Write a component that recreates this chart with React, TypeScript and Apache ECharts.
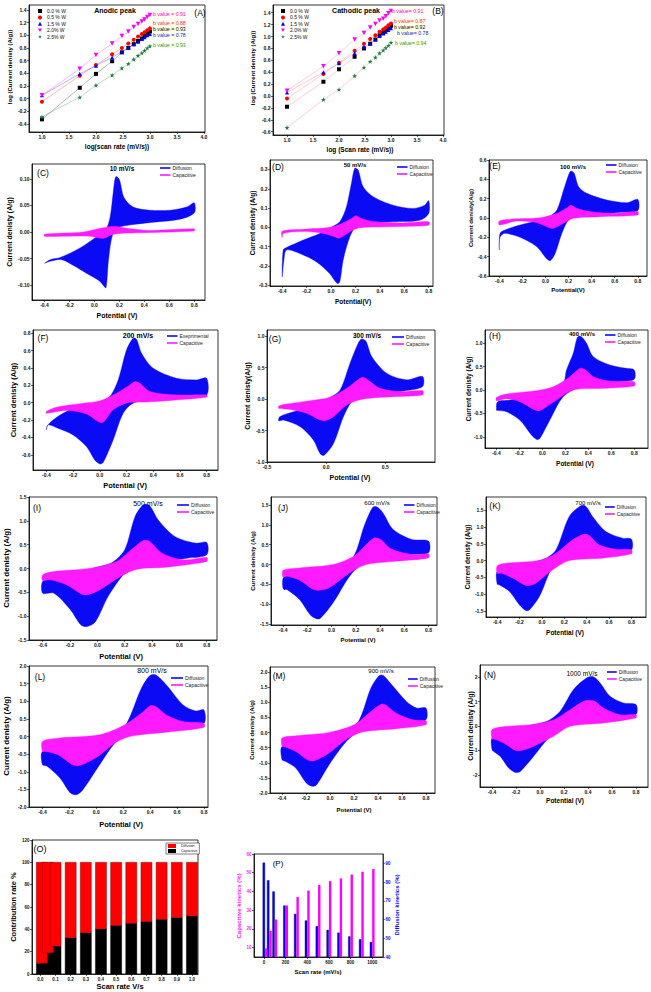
import React, { useEffect, useRef } from "react";
import * as echarts from "echarts";

const FONT = "'Liberation Sans', Arial, sans-serif";
const BLUE = "#0a0af5";
const MAG = "#ff1aff";

// ---------- (A)/(B) b-value plots ----------
const logScanRate = [1.0, 1.7, 2.0, 2.3, 2.48, 2.6, 2.7, 2.78, 2.85, 2.9, 2.95, 3.0];
const anodic00 = [-0.33, 0.17, 0.39, 0.59, 0.73, 0.8, 0.86, 0.91, 0.95, 0.99, 1.03, 1.06];
const anodic05 = [-0.05, 0.36, 0.53, 0.7, 0.8, 0.87, 0.93, 0.98, 1.02, 1.05, 1.08, 1.11];
const anodic15 = [0.05, 0.39, 0.52, 0.65, 0.74, 0.8, 0.86, 0.9, 0.94, 0.97, 1.0, 1.02];
const anodic20 = [0.05, 0.47, 0.69, 0.87, 0.99, 1.06, 1.13, 1.18, 1.22, 1.25, 1.29, 1.32];
const anodic25 = [-0.29, 0.02, 0.21, 0.37, 0.48, 0.55, 0.62, 0.68, 0.72, 0.76, 0.8, 0.83];
const cathodic00 = [-0.18, 0.24, 0.45, 0.66, 0.8, 0.88, 0.95, 1.02, 1.06, 1.11, 1.14, 1.18];
const cathodic05 = [-0.04, 0.37, 0.56, 0.76, 0.88, 0.96, 1.02, 1.08, 1.12, 1.15, 1.19, 1.22];
const cathodic15 = [0.06, 0.4, 0.55, 0.72, 0.83, 0.88, 0.95, 1.01, 1.05, 1.08, 1.11, 1.14];
const cathodic20 = [0.09, 0.5, 0.72, 0.95, 1.06, 1.15, 1.21, 1.27, 1.3, 1.34, 1.39, 1.43];
const cathodic25 = [-0.53, -0.06, 0.11, 0.34, 0.48, 0.58, 0.65, 0.72, 0.77, 0.81, 0.85, 0.9];
const wtNames = ["0.0 % W", "0.5 % W", "1.5 % W", "2.0% W", "2.5% W"];
const anodicB = ["b value = 0.91", "b value = 0.88", "b value = 0.93", "b value = 0.78", "b value = 0.93"];
const cathodicB = ["b value= 0.91", "b value= 0.87", "b value= 0.92", "b value= 0.78", "b value= 0.94"];
const abXTicks = [1.0, 1.5, 2.0, 2.5, 3.0, 3.5, 4.0];
const aYTicks = [-0.4, -0.2, 0, 0.2, 0.4, 0.6, 0.8, 1.0, 1.2, 1.4];
const bYTicks = [-0.6, -0.4, -0.2, 0, 0.2, 0.4, 0.6, 0.8, 1.0, 1.2, 1.4];

// ---------- CV loops (potential V, current A/g) ----------
const cDiff = [[-0.4,-0.059],[-0.355,-0.052],[-0.275,-0.048],[-0.115,-0.03],[0.019,-0.009],[0.085,0.001],[0.125,0.027],[0.152,0.077],[0.171,0.104],[0.2,0.099],[0.237,0.065],[0.312,0.047],[0.445,0.041],[0.605,0.041],[0.739,0.047],[0.8,0.055],[0.8,0.036],[0.685,0.024],[0.499,0.019],[0.312,0.014],[0.179,0.007],[0.139,-0.011],[0.112,-0.055],[0.093,-0.105],[0.07,-0.1],[0.04,-0.092],[-0.061,-0.078],[-0.168,-0.063],[-0.261,-0.052],[-0.355,-0.055]];
const cCap = [[-0.4,-0.004],[-0.088,0.0],[0.045,0.007],[0.165,0.011],[0.259,0.007],[0.445,0.003],[0.8,0.006],[0.8,0.002],[0.445,-0.001],[0.152,-0.004],[0.072,-0.012],[-0.035,-0.008],[-0.4,-0.008]];
const dDiff = [[-0.4,-0.257],[-0.392,-0.118],[-0.365,-0.105],[-0.228,-0.066],[-0.092,-0.032],[0.017,0.006],[0.072,0.029],[0.126,0.106],[0.167,0.228],[0.194,0.306],[0.222,0.297],[0.263,0.21],[0.345,0.159],[0.508,0.115],[0.672,0.098],[0.767,0.115],[0.8,0.138],[0.8,0.072],[0.726,0.037],[0.508,0.029],[0.29,0.02],[0.208,0.006],[0.154,-0.049],[0.099,-0.17],[0.072,-0.282],[0.05,-0.291],[-0.01,-0.24],[-0.119,-0.179],[-0.255,-0.136],[-0.365,-0.118],[-0.386,-0.17]];
const dCap = [[-0.4,-0.02],[-0.228,-0.01],[-0.01,0.0],[0.099,0.023],[0.167,0.046],[0.203,0.06],[0.249,0.046],[0.345,0.03],[0.59,0.023],[0.8,0.029],[0.8,0.011],[0.454,0.003],[0.236,-0.002],[0.181,-0.014],[0.113,-0.04],[0.066,-0.056],[0.017,-0.046],[-0.092,-0.028],[-0.255,-0.022],[-0.392,-0.032],[-0.4,-0.053]];
const eDiff = [[-0.4,-0.331],[-0.394,-0.159],[-0.351,-0.124],[-0.22,-0.072],[-0.046,-0.021],[0.041,0.021],[0.099,0.083],[0.157,0.29],[0.2,0.445],[0.22,0.486],[0.249,0.462],[0.287,0.324],[0.359,0.255],[0.533,0.186],[0.707,0.159],[0.8,0.193],[0.8,0.076],[0.649,0.059],[0.417,0.031],[0.272,0.014],[0.2,-0.021],[0.142,-0.159],[0.084,-0.366],[0.041,-0.441],[0.006,-0.417],[-0.075,-0.297],[-0.22,-0.2],[-0.351,-0.159],[-0.394,-0.2]];
const eCap = [[-0.4,-0.031],[-0.278,-0.01],[-0.046,0.003],[0.099,0.048],[0.2,0.117],[0.22,0.134],[0.272,0.1],[0.388,0.066],[0.591,0.048],[0.8,0.066],[0.8,0.031],[0.475,0.014],[0.243,-0.003],[0.157,-0.055],[0.07,-0.107],[0.026,-0.097],[-0.075,-0.048],[-0.249,-0.031],[-0.4,-0.072]];
const fDiff = [[-0.4,-0.313],[-0.393,-0.267],[-0.35,-0.198],[-0.25,-0.102],[-0.125,-0.036],[0.0,0.014],[0.075,0.071],[0.138,0.263],[0.2,0.608],[0.25,0.742],[0.275,0.731],[0.313,0.57],[0.4,0.397],[0.575,0.282],[0.725,0.263],[0.8,0.282],[0.8,0.09],[0.65,0.071],[0.375,0.033],[0.25,-0.005],[0.175,-0.121],[0.1,-0.428],[0.025,-0.689],[0.0,-0.704],[-0.038,-0.658],[-0.1,-0.505],[-0.2,-0.37],[-0.313,-0.294],[-0.388,-0.255]];
const fCap = [[-0.4,-0.102],[-0.325,-0.052],[-0.125,-0.005],[0.0,0.021],[0.125,0.109],[0.225,0.205],[0.263,0.244],[0.3,0.225],[0.375,0.129],[0.575,0.09],[0.8,0.09],[0.8,0.064],[0.375,0.01],[0.2,-0.005],[0.1,-0.082],[0.025,-0.228],[-0.013,-0.217],[-0.1,-0.129],[-0.25,-0.09],[-0.4,-0.121]];
const gDiff = [[-0.4,-0.347],[-0.393,-0.28],[-0.275,-0.2],[-0.107,-0.093],[0.034,0.029],[0.118,0.147],[0.202,0.573],[0.272,0.893],[0.3,0.957],[0.337,0.92],[0.385,0.68],[0.511,0.413],[0.68,0.307],[0.815,0.36],[0.815,0.2],[0.68,0.136],[0.455,0.083],[0.287,0.029],[0.216,-0.04],[0.146,-0.28],[0.062,-0.707],[-0.017,-0.893],[-0.051,-0.867],[-0.107,-0.653],[-0.219,-0.44],[-0.36,-0.333]];
const gCap = [[-0.4,-0.109],[-0.331,-0.077],[-0.135,-0.024],[0.034,0.029],[0.174,0.173],[0.287,0.333],[0.315,0.349],[0.371,0.28],[0.455,0.173],[0.624,0.12],[0.815,0.136],[0.815,0.067],[0.567,0.04],[0.315,0.003],[0.174,-0.093],[0.062,-0.28],[-0.008,-0.344],[-0.051,-0.333],[-0.163,-0.227],[-0.303,-0.163],[-0.4,-0.147]];
const hDiff = [[-0.4,-0.43],[-0.39,-0.25],[-0.284,-0.214],[-0.11,-0.107],[0.065,0.0],[0.181,0.143],[0.21,0.429],[0.269,0.786],[0.3,1.1],[0.321,1.157],[0.35,1.12],[0.385,1.0],[0.443,0.714],[0.588,0.536],[0.734,0.464],[0.8,0.429],[0.8,0.229],[0.676,0.179],[0.443,0.129],[0.327,0.071],[0.181,-0.143],[0.065,-0.643],[-0.022,-1.036],[-0.051,-1.057],[-0.095,-0.964],[-0.197,-0.643],[-0.313,-0.464],[-0.39,-0.44]];
const hCap = [[-0.4,-0.157],[-0.313,-0.086],[-0.051,-0.014],[0.094,0.071],[0.24,0.286],[0.327,0.464],[0.37,0.443],[0.443,0.286],[0.588,0.193],[0.8,0.179],[0.8,0.086],[0.53,0.036],[0.269,0.0],[0.123,-0.214],[-0.022,-0.443],[-0.066,-0.429],[-0.197,-0.25],[-0.313,-0.186],[-0.4,-0.229]];
const iDiff = [[-0.4,-0.519],[-0.4,-0.273],[-0.318,-0.203],[-0.165,-0.098],[-0.013,0.021],[0.109,0.126],[0.2,0.392],[0.276,1.093],[0.337,1.338],[0.383,1.317],[0.444,1.023],[0.566,0.673],[0.718,0.533],[0.8,0.547],[0.8,0.287],[0.657,0.217],[0.444,0.126],[0.291,0.056],[0.2,-0.098],[0.078,-0.589],[-0.013,-1.114],[-0.074,-1.219],[-0.12,-1.184],[-0.196,-0.869],[-0.318,-0.519]];
const iCap = [[-0.4,-0.133],[-0.318,-0.063],[-0.044,0.007],[0.139,0.147],[0.261,0.427],[0.337,0.589],[0.383,0.568],[0.474,0.322],[0.627,0.182],[0.8,0.231],[0.8,0.147],[0.505,0.028],[0.291,-0.014],[0.17,-0.168],[0.017,-0.449],[-0.074,-0.554],[-0.12,-0.533],[-0.226,-0.343],[-0.348,-0.238],[-0.4,-0.252]];
const jDiff = [[-0.4,-0.607],[-0.393,-0.312],[-0.263,-0.253],[-0.057,-0.11],[0.08,0.042],[0.183,0.211],[0.269,0.969],[0.337,1.432],[0.371,1.457],[0.423,1.306],[0.508,0.885],[0.663,0.632],[0.8,0.59],[0.8,0.295],[0.663,0.253],[0.423,0.126],[0.251,0.0],[0.149,-0.295],[0.011,-0.969],[-0.091,-1.348],[-0.126,-1.365],[-0.177,-1.264],[-0.263,-0.885],[-0.366,-0.632]];
const jCap = [[-0.4,-0.143],[-0.263,-0.084],[0.011,0.0],[0.183,0.211],[0.286,0.505],[0.354,0.674],[0.406,0.632],[0.491,0.396],[0.663,0.253],[0.8,0.27],[0.8,0.168],[0.526,0.084],[0.286,0.0],[0.149,-0.211],[-0.023,-0.59],[-0.109,-0.649],[-0.16,-0.615],[-0.263,-0.396],[-0.366,-0.295],[-0.4,-0.312]];
const kDiff = [[-0.4,-0.703],[-0.4,-0.324],[-0.29,-0.274],[-0.112,-0.075],[0.037,0.075],[0.126,0.324],[0.244,1.321],[0.348,1.64],[0.393,1.62],[0.452,1.321],[0.571,0.872],[0.72,0.673],[0.8,0.643],[0.8,0.324],[0.66,0.274],[0.393,0.175],[0.185,0.025],[0.096,-0.174],[-0.023,-1.072],[-0.112,-1.471],[-0.142,-1.491],[-0.201,-1.321],[-0.29,-0.922],[-0.379,-0.723]];
const kCap = [[-0.4,-0.155],[-0.32,-0.075],[-0.023,0.005],[0.126,0.224],[0.274,0.623],[0.378,0.793],[0.423,0.753],[0.512,0.474],[0.66,0.344],[0.8,0.324],[0.8,0.204],[0.541,0.075],[0.244,0.005],[0.096,-0.274],[-0.053,-0.673],[-0.112,-0.743],[-0.157,-0.723],[-0.26,-0.523],[-0.364,-0.374],[-0.4,-0.374]];
const lDiff = [[-0.4,-0.802],[-0.4,-0.425],[-0.254,-0.33],[-0.068,-0.16],[0.087,0.028],[0.211,0.283],[0.335,1.368],[0.397,1.726],[0.443,1.745],[0.521,1.462],[0.645,0.896],[0.738,0.726],[0.8,0.755],[0.8,0.377],[0.645,0.33],[0.428,0.189],[0.242,0.047],[0.149,-0.142],[0.025,-0.802],[-0.099,-1.509],[-0.146,-1.651],[-0.192,-1.604],[-0.27,-1.179],[-0.363,-0.849]];
const lCap = [[-0.4,-0.142],[-0.285,-0.047],[0.025,0.047],[0.211,0.33],[0.35,0.708],[0.397,0.868],[0.443,0.849],[0.521,0.613],[0.645,0.425],[0.8,0.377],[0.8,0.255],[0.521,0.123],[0.273,0.019],[0.149,-0.16],[-0.006,-0.613],[-0.13,-0.83],[-0.177,-0.802],[-0.285,-0.519],[-0.378,-0.425],[-0.4,-0.425]];
const mDiff = [[-0.4,-0.898],[-0.4,-0.457],[-0.25,-0.314],[-0.042,-0.072],[0.132,0.127],[0.237,0.369],[0.341,1.471],[0.41,1.89],[0.445,1.89],[0.515,1.581],[0.637,1.03],[0.723,0.81],[0.8,0.81],[0.8,0.424],[0.689,0.369],[0.445,0.204],[0.237,0.017],[0.132,-0.314],[-0.007,-1.063],[-0.111,-1.725],[-0.146,-1.78],[-0.198,-1.669],[-0.285,-1.174],[-0.372,-0.953]];
const mCap = [[-0.4,-0.182],[-0.285,-0.105],[-0.007,0.006],[0.202,0.259],[0.341,0.7],[0.428,0.942],[0.463,0.92],[0.55,0.645],[0.689,0.424],[0.8,0.391],[0.8,0.259],[0.55,0.127],[0.271,0.017],[0.132,-0.237],[-0.007,-0.678],[-0.129,-0.931],[-0.181,-0.92],[-0.285,-0.623],[-0.39,-0.457],[-0.4,-0.457]];
const nDiff = [[-0.4,-0.973],[-0.4,-0.493],[-0.303,-0.356],[-0.109,-0.014],[0.057,0.192],[0.168,0.603],[0.279,1.493],[0.39,1.973],[0.445,2.014],[0.501,1.767],[0.584,1.219],[0.695,0.945],[0.8,0.877],[0.8,0.466],[0.667,0.397],[0.39,0.192],[0.196,-0.014],[0.085,-0.425],[-0.054,-1.247],[-0.164,-1.863],[-0.206,-1.904],[-0.261,-1.726],[-0.331,-1.247],[-0.386,-1.041]];
const nCap = [[-0.4,-0.151],[-0.275,-0.014],[-0.081,0.055],[0.113,0.26],[0.251,0.671],[0.362,1.014],[0.404,1.055],[0.459,1.014],[0.528,0.74],[0.667,0.466],[0.8,0.466],[0.8,0.329],[0.528,0.123],[0.251,-0.014],[0.113,-0.425],[-0.054,-0.836],[-0.164,-1.014],[-0.206,-1.0],[-0.303,-0.699],[-0.386,-0.534],[-0.4,-0.534]];

// ---------- (O)/(P) contributions ----------
const scanRateVs = [0.01, 0.05, 0.1, 0.2, 0.3, 0.4, 0.5, 0.6, 0.7, 0.8, 0.9, 1.0];
const scanRateMvs = [10, 50, 100, 200, 300, 400, 500, 600, 700, 800, 900, 1000];
const capacitivePct = [9.6, 19, 25, 32.5, 37, 40.5, 43.5, 45.5, 47, 49, 50.5, 52];
const diffusionPct = [90.4, 81, 75, 67.5, 63, 59.5, 56.5, 54.5, 53, 51, 49.5, 48];
const oXTicks = [0, 0.1, 0.2, 0.3, 0.4, 0.5, 0.6, 0.7, 0.8, 0.9, 1.0];
const oYTicks = [0, 20, 40, 60, 80, 100, 120];
const pXTicks = [0, 200, 400, 600, 800, 1000];
const pLTicks = [10, 20, 30, 40, 50, 60];
const pRTicks = [40, 50, 60, 70, 80, 90];

const cvX = [-0.4, -0.2, 0, 0.2, 0.4, 0.6, 0.8];

// layout + per-panel text (positions are layout, not data)
const cvPanels = [
  { tag: "(C)", rate: "10 mV/s", diff: cDiff, cap: cCap, l: 32, t: 164, w: 173, h: 136, x: [-0.5, 0.886], y: [-0.128, 0.128], yt: [-0.1, -0.05, 0, 0.05, 0.1], yd: 2, xt: cvX, xd: 1,
    tagP: [43, 173], rateP: [122, 168], rb: true, rf: 6.5, leg: [160, 168, 7], legName: "Diffusion", yName: "Current denisty (A/g)", yNameP: [9, 232], yf: 7, xName: "Potential (V)", xNameP: [117, 315], xf: 7 },
  { tag: "(D)", rate: "50 mV/s", diff: dDiff, cap: dCap, l: 270, t: 160, w: 163, h: 126, x: [-0.5, 0.835], y: [-0.304, 0.349], yt: [-0.3, -0.2, -0.1, 0, 0.1, 0.2, 0.3], yd: 1, xt: cvX, xd: 1,
    tagP: [278, 167], rateP: [355, 165], rb: true, rf: 6, leg: [397, 167, 7], legName: "Diffusion", yName: "Current denisty (A/g)", yNameP: [252, 223], yf: 6.5, xName: "Potential(V)", xNameP: [353, 301], xf: 6.5 },
  { tag: "(E)", rate: "100 mV/s", diff: eDiff, cap: eCap, l: 489, t: 160, w: 158, h: 116, x: [-0.49, 0.88], y: [-0.6, 0.6], yt: [-0.6, -0.4, -0.2, 0, 0.2, 0.4, 0.6], yd: 1, xt: cvX, xd: 1,
    tagP: [495, 166], rateP: [573, 167], rb: true, rf: 6, leg: [606, 165, 7], legName: "Diffusion", yName: "Current denisty(A/g)", yNameP: [471, 218], yf: 6, xName: "Potential(V)", xNameP: [568, 290], xf: 6 },
  { tag: "(F)", rate: "200 mV/s", diff: fDiff, cap: fCap, l: 33, t: 330, w: 185, h: 140, x: [-0.5, 0.885], y: [-0.774, 0.837], yt: [-0.6, -0.4, -0.2, 0, 0.2, 0.4, 0.6, 0.8], yd: 1, xt: cvX, xd: 1,
    tagP: [43, 338], rateP: [138, 335], rb: true, rf: 7, leg: [167, 336, 7], legName: "Exeprimental", yName: "Current denisty (A/g)", yNameP: [13, 400], yf: 7.5, xName: "Potential (V)", xNameP: [125, 485], xf: 7.5 },
  { tag: "(G)", rate: "300 mV/s", diff: gDiff, cap: gCap, l: 267, t: 330, w: 168, h: 132, x: [-0.5, 0.92], y: [-1.0, 1.1], yt: [-1, -0.5, 0, 0.5, 1], yd: 1, xt: [-0.5, 0, 0.5], xd: 1,
    tagP: [275, 339], rateP: [367, 335], rb: true, rf: 6.5, leg: [392, 337, 8], legName: "Diffusion", yName: "Current denisty(A/g)", yNameP: [247, 396], yf: 7, xName: "Potential (V)", xNameP: [350, 477], xf: 7 },
  { tag: "(H)", rate: "400 mV/s", diff: hDiff, cap: hCap, l: 485, t: 330, w: 163, h: 118, x: [-0.5, 0.92], y: [-1.24, 1.285], yt: [-1, -0.5, 0, 0.5, 1], yd: 1, xt: cvX, xd: 1,
    tagP: [495, 336], rateP: [582, 334], rb: true, rf: 6, leg: [605, 335, 7], legName: "Diffusion", yName: "Current denisty (A/g)", yNameP: [468, 389], yf: 6.5, xName: "Potential (V)", xNameP: [575, 463], xf: 6.5 },
  { tag: "(I)", rate: "500 mV/s", diff: iDiff, cap: iCap, l: 29, t: 497, w: 188, h: 143, x: [-0.5, 0.875], y: [-1.5, 1.5], yt: [-1.5, -1, -0.5, 0, 0.5, 1, 1.5], yd: 1, xt: cvX, xd: 1,
    tagP: [37, 508], rateP: [148, 503], rb: false, rf: 7, leg: [177, 505, 8], legName: "Diffusion", yName: "Current denisty (A/g)", yNameP: [6, 568], yf: 8, xName: "Potential (V)", xNameP: [121, 656], xf: 7.5 },
  { tag: "(J)", rate: "600 mV/s", diff: jDiff, cap: jCap, l: 271, t: 497, w: 166, h: 128, x: [-0.5, 0.87], y: [-1.52, 1.7], yt: [-1.5, -1, -0.5, 0, 0.5, 1, 1.5], yd: 1, xt: cvX, xd: 1,
    tagP: [283, 508], rateP: [377, 503], rb: false, rf: 6, leg: [404, 505, 7], legName: "Diffusion", yName: "Current denisty (A/g)", yNameP: [253, 561], yf: 6, xName: "Potential (V)", xNameP: [358, 640], xf: 6 },
  { tag: "(K)", rate: "700 mV/s", diff: kDiff, cap: kCap, l: 486, t: 497, w: 160, h: 120, x: [-0.5, 0.93], y: [-1.68, 1.9], yt: [-1.5, -1, -0.5, 0, 0.5, 1, 1.5], yd: 1, xt: cvX, xd: 1,
    tagP: [495, 506], rateP: [588, 503], rb: false, rf: 6, leg: [605, 507, 6.5], legName: "Diffusion", yName: "Current denisty (A/g)", yNameP: [467, 557], yf: 6.5, xName: "Potential (V)", xNameP: [565, 632], xf: 6.5 },
  { tag: "(L)", rate: "800 mV/s", diff: lDiff, cap: lCap, l: 29, t: 666, w: 179, h: 141, x: [-0.5, 0.83], y: [-2, 2], yt: [-2, -1.5, -1, -0.5, 0, 0.5, 1, 1.5, 2], yd: 1, xt: cvX, xd: 1,
    tagP: [40, 677], rateP: [152, 670], rb: false, rf: 7, leg: [171, 678, 8], legName: "Diffusion", yName: "Current denisty (A/g)", yNameP: [6, 736], yf: 8, xName: "Potential (V)", xNameP: [121, 824], xf: 7.5 },
  { tag: "(M)", rate: "900 mV/s", diff: mDiff, cap: mCap, l: 270, t: 667, w: 165, h: 126, x: [-0.5, 0.875], y: [-2.0, 2.17], yt: [-2, -1.5, -1, -0.5, 0, 0.5, 1, 1.5, 2], yd: 1, xt: cvX, xd: 1,
    tagP: [279, 676], rateP: [381, 671], rb: false, rf: 6, leg: [408, 679, 6.5], legName: "Diffusion", yName: "Current denisty (A/g)", yNameP: [252, 730], yf: 6, xName: "Potential (V)", xNameP: [354, 810], xf: 6 },
  { tag: "(N)", rate: "1000 mV/s", diff: nDiff, cap: nCap, l: 480, t: 665, w: 168, h: 122, x: [-0.5, 0.9], y: [-2.5, 2.5], yt: [-2, -1, 0, 1, 2], yd: 0, xt: cvX, xd: 1,
    tagP: [490, 675], rateP: [582, 673], rb: false, rf: 6.5, leg: [607, 672, 6.5], legName: "Diffusion", yName: "Current denisty (A/g)", yNameP: [470, 726], yf: 7, xName: "Potential (V)", xNameP: [565, 800], xf: 6.5 },
];

const STAR = "path://M50,0 L61,35 L98,35 L68,57 L79,91 L50,70 L21,91 L32,57 L2,35 L39,35 Z";
const DOWN = "path://M0,0 L10,0 L5,9 Z";
const wtColors = ["#000000", "#ff0000", "#0000ff", "#ff00ff", "#1e7b3c"];
const wtSymbols = ["rect", "circle", "triangle", DOWN, STAR];
const bTextColors = ["#ff00ff", "#ff2a6a", "#111111", "#1a1aff", "#2f9a4f"];

function axis(gi: number, min: number, max: number, ticks: number[], dec: number, extra: any = {}) {
  const lab = extra.label || {};
  const line = extra.line || {};
  return {
    type: "value",
    gridIndex: gi,
    min,
    max,
    position: extra.position,
    axisLine: { show: true, onZero: false, lineStyle: { color: "#000", width: 0.8, ...line } },
    axisTick: { show: true, inside: false, length: 2, customValues: ticks, lineStyle: { color: line.color || "#000", width: 0.6 } },
    axisLabel: {
      show: true,
      customValues: ticks,
      formatter: (v: number) => v.toFixed(dec),
      fontSize: 5,
      fontFamily: FONT,
      fontWeight: "bold",
      color: "#111",
      margin: 2.5,
      ...lab,
    },
    splitLine: { show: false },
    minorTick: { show: false },
  };
}

function grid(l: number, t: number, w: number, h: number) {
  return { left: l, top: t, width: w, height: h, show: true, borderColor: "#000", borderWidth: 0.8, backgroundColor: "transparent" };
}

function loop(name: string, gi: number, pts: number[][], color: string) {
  return {
    type: "custom",
    name,
    xAxisIndex: gi,
    yAxisIndex: gi,
    data: pts,
    encode: { x: 0, y: 1 },
    clip: true,
    silent: true,
    renderItem: (params: any, api: any) => {
      if (params.dataIndex !== 0) return null;
      const points: number[][] = [];
      for (let i = 0; i < pts.length; i++) points.push(api.coord([api.value(0, i), api.value(1, i)]));
      return { type: "polygon", shape: { points, smooth: 0.3 }, style: { fill: color, stroke: color, lineWidth: 0.4 } };
    },
  };
}

// stacked column drawn through the axes: each item is [x, bottom, top]
function columns(name: string, gi: number, data: number[][], width: number, fill: string, stroke: string) {
  return {
    type: "custom",
    name,
    xAxisIndex: gi,
    yAxisIndex: gi,
    data,
    encode: { x: 0, y: [1, 2] },
    clip: true,
    silent: true,
    itemStyle: { color: fill },
    renderItem: (params: any, api: any) => {
      const x = api.value(0);
      const p0 = api.coord([x, api.value(1)]);
      const p1 = api.coord([x, api.value(2)]);
      return {
        type: "rect",
        shape: { x: p0[0] - width / 2, y: p1[1], width, height: p0[1] - p1[1] },
        style: { fill, stroke, lineWidth: 0.5 },
      };
    },
  };
}

function txt(x: number, y: number, text: string, size: number, opts: any = {}) {
  const align = opts.align || "center";
  return {
    type: "text",
    x,
    y,
    rotation: opts.rot || 0,
    silent: true,
    z: 100,
    style: {
      text,
      fill: opts.color || "#000",
      font: `${opts.bold ? "bold " : ""}${size}px ${FONT}`,
      align,
      textAlign: align,
      verticalAlign: "middle",
      textVerticalAlign: "middle",
      backgroundColor: opts.bg,
    },
  };
}

function legLine(x: number, y: number, len: number, color: string) {
  return { type: "line", silent: true, z: 100, shape: { x1: x, y1: y, x2: x + len, y2: y }, style: { stroke: color, lineWidth: 1.6 } };
}

function buildOption() {
  const grids: any[] = [];
  const xAxes: any[] = [];
  const yAxes: any[] = [];
  const series: any[] = [];
  const graphics: any[] = [];

  // A
  grids.push(grid(29, 5, 176, 127));
  xAxes.push(axis(0, 0.76, 4.02, abXTicks, 1));
  yAxes.push(axis(0, -0.53, 1.48, aYTicks, 1));
  // B
  grids.push(grid(273, 5, 171, 130));
  xAxes.push(axis(1, 0.73, 4.02, abXTicks, 1));
  yAxes.push(axis(1, -0.655, 1.53, bYTicks, 1));

  const anodic = [anodic00, anodic05, anodic15, anodic20, anodic25];
  const cathodic = [cathodic00, cathodic05, cathodic15, cathodic20, cathodic25];
  [anodic, cathodic].forEach((set, gi) => {
    set.forEach((vals, k) => {
      series.push({
        type: "line",
        name: wtNames[k],
        xAxisIndex: gi,
        yAxisIndex: gi,
        data: logScanRate.map((x, i) => [x, vals[i]]),
        symbol: wtSymbols[k],
        symbolSize: k === 4 ? 5 : k === 3 ? 4.5 : 4,
        itemStyle: { color: wtColors[k] },
        lineStyle: { color: gi === 0 ? wtColors[k] : "#ff5577", width: 0.6, type: "dotted" },
        silent: true,
      });
    });
  });

  // CV panels
  cvPanels.forEach((p, idx) => {
    const gi = idx + 2;
    grids.push(grid(p.l, p.t, p.w, p.h));
    xAxes.push(axis(gi, p.x[0], p.x[1], p.xt, p.xd));
    yAxes.push(axis(gi, p.y[0], p.y[1], p.yt, p.yd));
    series.push(loop(p.tag + " diffusion", gi, p.diff, BLUE));
    series.push(loop(p.tag + " capacitive", gi, p.cap, MAG));
    graphics.push(txt(p.tagP[0], p.tagP[1], p.tag, 8.5));
    graphics.push(txt(p.rateP[0], p.rateP[1], p.rate, p.rf, { bold: p.rb }));
    const [lx, ly, ll] = p.leg;
    graphics.push(legLine(lx, ly, ll * 1.5, BLUE));
    graphics.push(legLine(lx, ly + 7, ll * 1.5, MAG));
    graphics.push(txt(lx + ll * 1.5 + 2, ly, p.legName, 5, { align: "left", color: "#222" }));
    graphics.push(txt(lx + ll * 1.5 + 2, ly + 7, "Capacitive", 5, { align: "left", color: "#222" }));
    graphics.push(txt(p.yNameP[0], p.yNameP[1], p.yName, p.yf, { bold: true, rot: Math.PI / 2 }));
    graphics.push(txt(p.xNameP[0], p.xNameP[1], p.xName, p.xf, { bold: true }));
  });

  // O
  grids.push(grid(32, 840, 166, 134));
  xAxes.push(axis(14, -0.055, 1.04, oXTicks, 1, { label: { fontSize: 4.5 } }));
  yAxes.push(axis(14, 0, 120, oYTicks, 0, { label: { fontSize: 4.5 } }));
  series.push(columns("Capacitive", 14, scanRateVs.map((x, i) => [x, 0, capacitivePct[i]]), 11, "#000000", "#000000"));
  series.push(columns("Diffusion", 14, scanRateVs.map((x, i) => [x, capacitivePct[i], capacitivePct[i] + diffusionPct[i]]), 11, "#ff0000", "#8b0000"));
  graphics.push(txt(40, 849, "(O)", 9, { align: "center" }));
  graphics.push(txt(13, 907, "Contribution rate %", 7.5, { bold: true, rot: Math.PI / 2 }));
  graphics.push(txt(120, 986.5, "Scan rate V/s", 7.5, { bold: true }));

  // P
  grids.push(grid(254, 854, 129, 103));
  xAxes.push(axis(15, -92, 1100, pXTicks, 0, { label: { fontSize: 4.5 } }));
  yAxes.push(axis(15, 5, 60, pLTicks, 0, { label: { fontSize: 4.5, color: MAG } }));
  yAxes.push(axis(15, 40, 95, pRTicks, 0, { position: "right", label: { fontSize: 4.5, color: BLUE }, line: { color: BLUE } }));
  series.push({
    type: "bar", name: "Diffusion kinetics", xAxisIndex: 15, yAxisIndex: 16, barWidth: 2.4, barGap: "0%",
    data: scanRateMvs.map((x, i) => [x, diffusionPct[i]]),
    itemStyle: { color: "#0000ff", borderColor: "#000066", borderWidth: 0.4 }, silent: true,
  });
  series.push({
    type: "bar", name: "Capacitive kinetics", xAxisIndex: 15, yAxisIndex: 15, barWidth: 2.4, barGap: "0%",
    data: scanRateMvs.map((x, i) => [x, capacitivePct[i]]),
    itemStyle: { color: "#ff00ff" }, silent: true,
  });
  graphics.push(txt(278, 863, "(P)", 8));
  graphics.push(txt(239, 906, "Capacitive kinetics (%)", 6, { bold: true, rot: Math.PI / 2, color: MAG }));
  graphics.push(txt(397, 905, "Diffusion kinetics (%)", 6, { bold: true, rot: Math.PI / 2, color: BLUE }));
  graphics.push(txt(318, 972, "Scan rate (mV/s)", 6, { bold: true }));

  // A / B annotations
  graphics.push(txt(115, 10.5, "Anodic peak", 7, { bold: true }));
  graphics.push(txt(356, 10.5, "Cathodic peak", 7, { bold: true }));
  graphics.push(txt(200, 13, "(A)", 8.5));
  graphics.push(txt(438, 10.5, "(B)", 8.5));
  const aBY = [14, 23, 29, 35, 45];
  const bBY = [10.5, 21, 27, 33, 43];
  const bBX = [392, 394, 394, 397, 395];
  anodicB.forEach((s, k) => graphics.push(txt(153, aBY[k], s, 5.2, { align: "left", color: bTextColors[k], bg: "rgba(255,255,190,0.55)" })));
  cathodicB.forEach((s, k) => graphics.push(txt(bBX[k], bBY[k], s, 5.2, { align: "left", color: bTextColors[k], bg: "rgba(255,255,190,0.55)" })));
  graphics.push(txt(10, 67, "log (Current denisty (A/g))", 6, { bold: true, rot: Math.PI / 2 }));
  graphics.push(txt(253, 68, "log (Current denisty (A/g))", 6, { bold: true, rot: Math.PI / 2 }));
  graphics.push(txt(117, 146, "log(scan rate (mV/s))", 6.5, { bold: true }));
  graphics.push(txt(360, 149, "log (Scan rate (mV/s))", 6.5, { bold: true }));

  const legData = wtNames.map((n, k) => ({ name: n, icon: k === 3 ? DOWN : k === 4 ? STAR : wtSymbols[k] }));
  const wtLegend = (left: number) => ({
    left, top: 8.5, orient: "vertical", selectedMode: false, itemWidth: 4, itemHeight: 4, itemGap: 1.4, padding: 0,
    data: legData, textStyle: { fontSize: 5, fontFamily: FONT, color: "#111", lineHeight: 5, padding: [0, 0, 0, 0] },
  });

  return {
    animation: false,
    backgroundColor: "#ffffff",
    grid: grids,
    xAxis: xAxes,
    yAxis: yAxes,
    series,
    graphic: graphics,
    legend: [
      wtLegend(38),
      wtLegend(281),
      {
        left: 166, top: 843, orient: "vertical", selectedMode: false, itemWidth: 8, itemHeight: 4, itemGap: 1, padding: [1, 2],
        borderColor: "#000", borderWidth: 0.5, backgroundColor: "#fff",
        data: [{ name: "Diffusion", icon: "rect", itemStyle: { color: "#ff0000" } }, { name: "Capacitive", icon: "rect", itemStyle: { color: "#000000" } }],
        textStyle: { fontSize: 3.5, fontFamily: FONT, color: "#111", lineHeight: 4 },
      },
    ],
  };
}

export default function App() {
  const ref = useRef<HTMLDivElement>(null);
  useEffect(() => {
    if (!ref.current) return;
    const chart = echarts.init(ref.current, undefined, { renderer: "svg" });
    chart.setOption(buildOption() as any);
    return () => chart.dispose();
  }, []);
  return <div ref={ref} style={{ position: "absolute", left: 0, top: 0, width: 651, height: 992 }} />;
}
